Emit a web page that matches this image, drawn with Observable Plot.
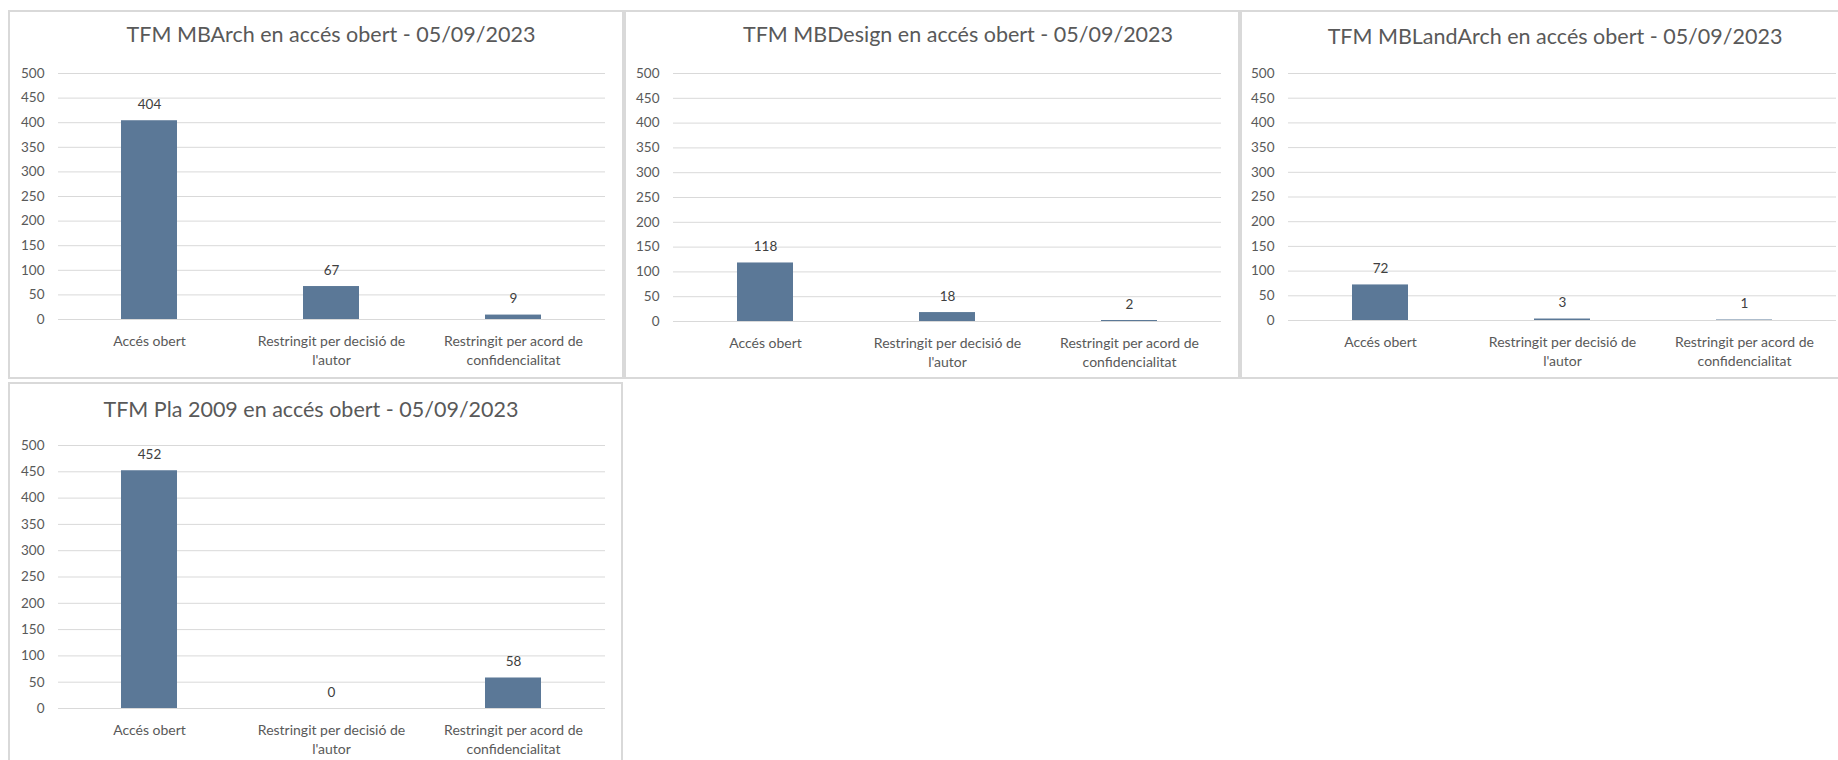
<!DOCTYPE html>
<html><head><meta charset="utf-8">
<script src="https://cdn.jsdelivr.net/npm/d3@7"></script>
<script src="https://cdn.jsdelivr.net/npm/@observablehq/plot@0.6"></script>
<style>
body{margin:0;background:#fff;width:1838px;height:760px;overflow:hidden;position:relative;font-family:Lato,"Open Sans",sans-serif}
.panel{position:absolute;box-shadow:inset 0 0 0 2px #d9d9d9;background:#fff}
.title{position:absolute;white-space:nowrap;font-size:21.5px;color:#595959;transform:translate(-50%,-50%);line-height:1}
.panel svg{position:absolute;left:0}
</style></head><body>
<script>
// ---- data ----
const categories = ["Accés obert", "Restringit per decisió de l'autor", "Restringit per acord de confidencialitat"];
const categoryLabels = ["Accés obert", "Restringit per decisió de\nl'autor", "Restringit per acord de\nconfidencialitat"];
const titles = [
  "TFM MBArch en accés obert - 05/09/2023",
  "TFM MBDesign en accés obert - 05/09/2023",
  "TFM MBLandArch en accés obert - 05/09/2023",
  "TFM Pla 2009 en accés obert - 05/09/2023"
];
const valuesMBArch = [404, 67, 9];
const valuesMBDesign = [118, 18, 2];
const valuesMBLandArch = [72, 3, 1];
const valuesPla2009 = [452, 0, 58];
const yTicks = [0, 50, 100, 150, 200, 250, 300, 350, 400, 450, 500];

// ---- layout ----
const panels = [
  {values: valuesMBArch,     title: titles[0], left: 8,    top: 10,  w: 616, h: 369, tx: 323, ty: 25, mL: 50, mR: 19, mT: 13, mB: 60},
  {values: valuesMBDesign,   title: titles[1], left: 624,  top: 10,  w: 616, h: 369, tx: 334, ty: 25, mL: 49, mR: 19, mT: 13, mB: 58},
  {values: valuesMBLandArch, title: titles[2], left: 1240, top: 10,  w: 616, h: 369, tx: 315, ty: 27, mL: 48, mR: 20, mT: 13, mB: 59},
  {values: valuesPla2009,    title: titles[3], left: 8,    top: 382, w: 615, h: 400, tx: 303, ty: 28, mL: 50, mR: 18, mT: 13, mB: 74}
];
const svgOffset = 50;
const barColor = "#5b7897";
const textColor = "#595959";

for (const p of panels) {
  const div = document.createElement("div");
  div.className = "panel";
  Object.assign(div.style, {left: p.left + "px", top: p.top + "px", width: p.w + "px", height: p.h + "px"});
  const t = document.createElement("div");
  t.className = "title";
  t.textContent = p.title;
  Object.assign(t.style, {left: p.tx + "px", top: p.ty + "px"});
  div.appendChild(t);

  const rows = categories.map((c, i) => ({cat: c, value: p.values[i]}));
  const chart = Plot.plot({
    width: p.w,
    height: p.h - svgOffset,
    marginLeft: p.mL, marginRight: p.mR, marginTop: p.mT, marginBottom: p.mB,
    style: {color: textColor, fontFamily: "Lato, 'Open Sans', sans-serif", background: "transparent", overflow: "visible"},
    x: {domain: categories, paddingInner: 0.69, paddingOuter: 0.345, label: null},
    y: {domain: [0, 500], label: null},
    marks: [
      Plot.gridY(yTicks, {stroke: "#d9d9d9", strokeOpacity: 1, strokeWidth: 1}),
      Plot.barY(rows, {x: "cat", y: "value", fill: barColor}),
      Plot.text(rows, {x: "cat", y: "value", text: d => String(d.value), dy: -16, fill: "#404040", fontSize: 13.5}),
      Plot.axisY(yTicks, {tickSize: 0, tickPadding: 14, fontSize: 13.5, label: null}),
      Plot.axisX({tickSize: 0, tickPadding: 13, fontSize: 14, lineHeight: 1.35, label: null,
        tickFormat: d => categoryLabels[categories.indexOf(d)]})
    ]
  });
  chart.style.top = svgOffset + "px";
  div.appendChild(chart);
  document.body.appendChild(div);
}
</script>
</body></html>
